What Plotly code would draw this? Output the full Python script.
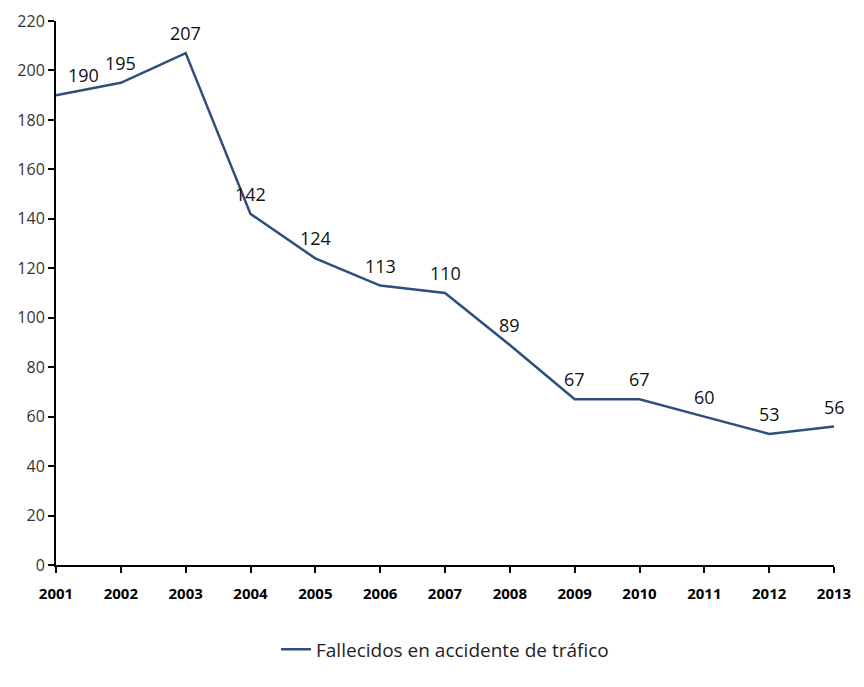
import plotly.graph_objects as go

years = ["2001", "2002", "2003", "2004", "2005", "2006", "2007",
         "2008", "2009", "2010", "2011", "2012", "2013"]
fallecidos = [190, 195, 207, 142, 124, 113, 110, 89, 67, 67, 60, 53, 56]
y_ticks = list(range(0, 221, 20))

fig = go.Figure()
fig.add_trace(go.Scatter(
    x=years,
    y=fallecidos,
    mode="lines",
    line=dict(color="#2C4F7C", width=2.5),
    name="Fallecidos en accidente de tráfico",
    cliponaxis=False
))

# data labels sit ~20px above each point; the first one is nudged right
# (x given as category index, numeric-looking names confuse annotations)
for i, v in enumerate(fallecidos):
    fig.add_annotation(
        x=i, y=v, text=str(v), showarrow=False,
        yshift=20, xshift=27 if i == 0 else 0,
        font=dict(size=18, color="#111111")
    )

# the page body adds an 8px offset, so the figure is a bit smaller than the window
fig.update_layout(
    width=856,
    height=679,
    margin=dict(l=48, r=30, t=13, b=122),
    paper_bgcolor="white",
    plot_bgcolor="white",
    font=dict(family="Open Sans, Noto Sans, sans-serif", color="#222222"),
    showlegend=True,
    legend=dict(
        orientation="h",
        x=0.5, xanchor="center",
        y=-0.12, yanchor="top",
        font=dict(size=19)
    ),
    xaxis=dict(
        type="category",
        range=[0, len(years) - 1],
        automargin=False,
        showline=True, linecolor="black", linewidth=2,
        ticks="outside", ticklen=6, tickcolor="black", tickwidth=1.5,
        ticklabelstandoff=8,
        showgrid=False, zeroline=False,
        tickfont=dict(size=15, color="black", weight="bold")
    ),
    yaxis=dict(
        range=[0, 220],
        tickvals=y_ticks,
        automargin=False,
        showline=True, linecolor="black", linewidth=2,
        ticks="outside", ticklen=6, tickcolor="black", tickwidth=1.5,
        showgrid=False, zeroline=False,
        tickfont=dict(size=16, color="#333333")
    )
)

fig.write_html("out.html")
